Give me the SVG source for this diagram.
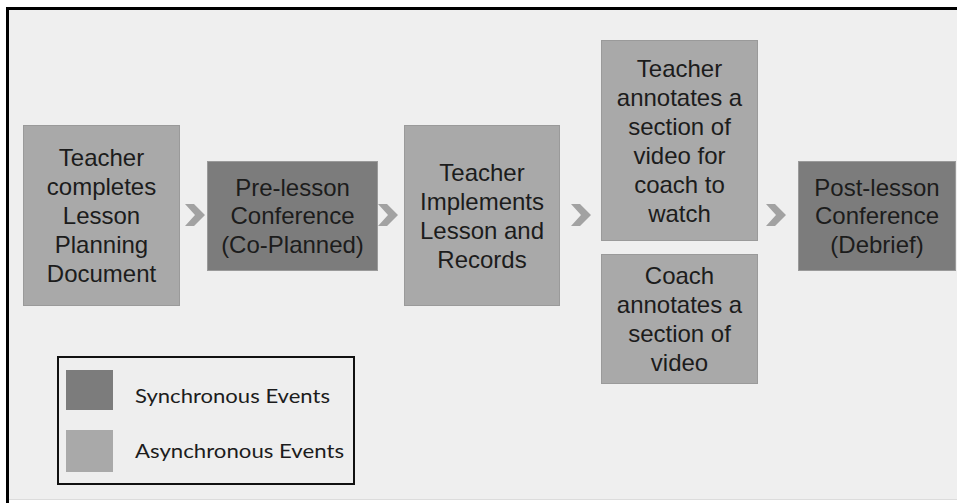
<svg xmlns="http://www.w3.org/2000/svg" width="957" height="503" viewBox="0 0 957 503">
  <style>
    .light { fill: #a9a9a9; }
    .dark { fill: #7c7c7c; }
    .box { stroke: #9a9a9a; stroke-width: 1; }
    .lbl { font-family: "Liberation Sans", Arial, sans-serif; font-size: 24px; fill: #1c1c1c; text-anchor: middle; }
    .leg { font-family: "Lato", "Liberation Sans", sans-serif; font-size: 20px; fill: #1c1c1c; }
    .chev { fill: #a2a2a2; }
  </style>
  <defs>
    <polygon id="chev" points="0,0 9,0 20,11 9,22 0,22 10,11"/>
  </defs>
  <rect x="0" y="0" width="957" height="503" fill="#ffffff"/>
  <rect x="9" y="10" width="948" height="489" fill="#efefef"/>
  <line x1="9" y1="499.5" x2="957" y2="499.5" stroke="#dcdcdc" stroke-width="1"/>
  <path d="M7.5,503 V8.5 H957" fill="none" stroke="#000" stroke-width="3"/>

  <g id="connectors">
    <use href="#chev" class="chev" x="185" y="204"/>
    <use href="#chev" class="chev" x="378" y="204"/>
    <use href="#chev" class="chev" x="571" y="204"/>
    <use href="#chev" class="chev" x="766" y="204"/>
  </g>

  <g id="node-planning">
    <rect class="light box" x="23.5" y="125.5" width="156" height="180"/>
    <text class="lbl" x="101.5" y="166">Teacher</text>
    <text class="lbl" x="101.5" y="195">completes</text>
    <text class="lbl" x="101.5" y="224">Lesson</text>
    <text class="lbl" x="101.5" y="253">Planning</text>
    <text class="lbl" x="101.5" y="282">Document</text>
  </g>

  <g id="node-prelesson">
    <rect class="dark box" x="207.5" y="161.5" width="170" height="109"/>
    <text class="lbl" x="292.5" y="196">Pre-lesson</text>
    <text class="lbl" x="292.5" y="224">Conference</text>
    <text class="lbl" x="292.5" y="253">(Co-Planned)</text>
  </g>

  <g id="node-implements">
    <rect class="light box" x="404.5" y="125.5" width="155" height="180"/>
    <text class="lbl" x="482" y="181">Teacher</text>
    <text class="lbl" x="482" y="210">Implements</text>
    <text class="lbl" x="482" y="239">Lesson and</text>
    <text class="lbl" x="482" y="268">Records</text>
  </g>

  <g id="node-teacher-annotates">
    <rect class="light box" x="601.5" y="40.5" width="156" height="200"/>
    <text class="lbl" x="679.5" y="77">Teacher</text>
    <text class="lbl" x="679.5" y="106">annotates a</text>
    <text class="lbl" x="679.5" y="135">section of</text>
    <text class="lbl" x="679.5" y="164">video for</text>
    <text class="lbl" x="679.5" y="193">coach to</text>
    <text class="lbl" x="679.5" y="222">watch</text>
  </g>

  <g id="node-coach-annotates">
    <rect class="light box" x="601.5" y="254.5" width="156" height="129"/>
    <text class="lbl" x="679.5" y="284">Coach</text>
    <text class="lbl" x="679.5" y="313">annotates a</text>
    <text class="lbl" x="679.5" y="342">section of</text>
    <text class="lbl" x="679.5" y="371">video</text>
  </g>

  <g id="node-postlesson">
    <rect class="dark box" x="798.5" y="161.5" width="157" height="109"/>
    <text class="lbl" x="877" y="196">Post-lesson</text>
    <text class="lbl" x="877" y="224">Conference</text>
    <text class="lbl" x="877" y="253">(Debrief)</text>
  </g>

  <g id="legend">
    <rect x="58" y="357" width="296" height="127" fill="#eeeeee" stroke="#111" stroke-width="2"/>
    <rect class="dark" x="66" y="370" width="47" height="40"/>
    <rect class="light" x="66" y="430" width="47" height="42"/>
    <text class="leg" x="135" y="403" textLength="195" lengthAdjust="spacingAndGlyphs">Synchronous Events</text>
    <text class="leg" x="135" y="458" textLength="209" lengthAdjust="spacingAndGlyphs">Asynchronous Events</text>
  </g>
</svg>
